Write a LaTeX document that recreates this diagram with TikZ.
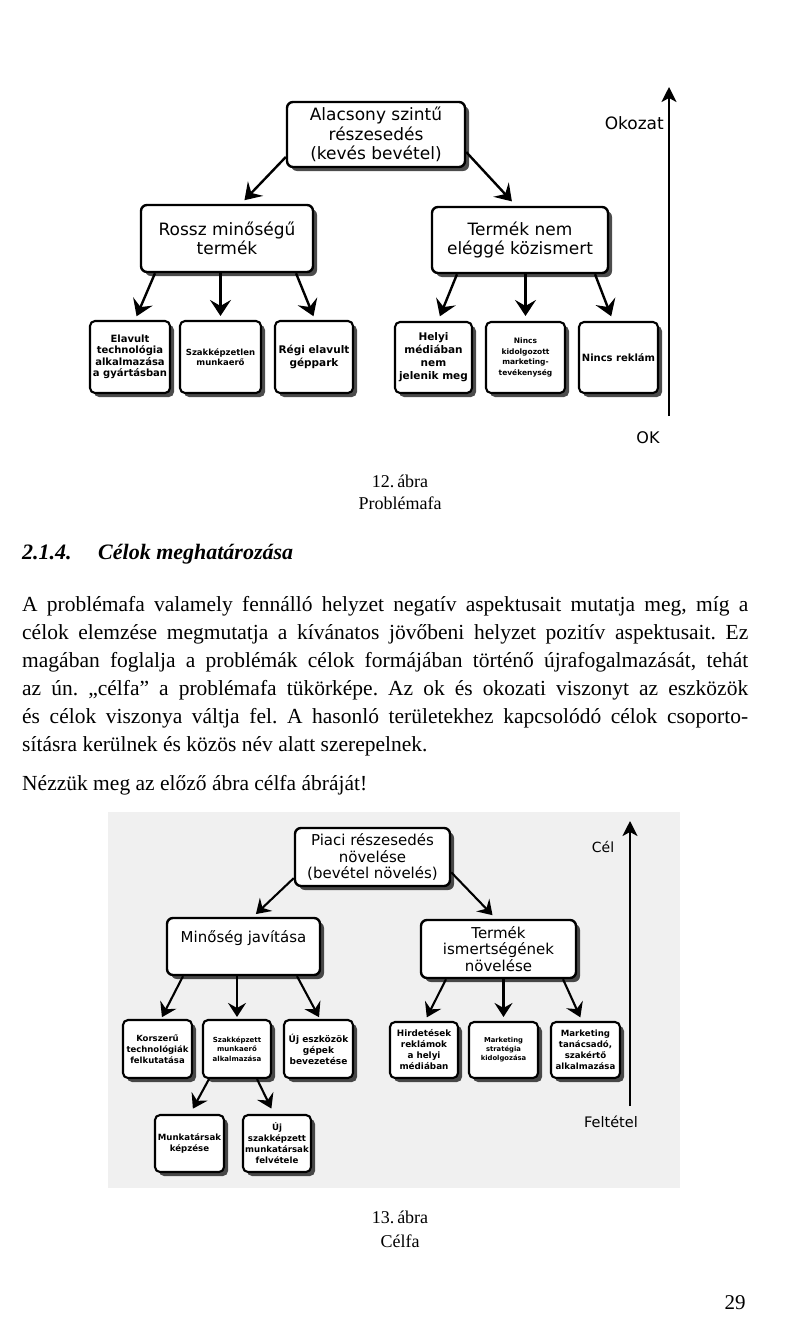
\documentclass[tikz,border=0pt]{standalone}
\usepackage{fontspec}
\setmainfont{Liberation Serif}
\newfontfamily\diafont{DejaVu Sans}
\usetikzlibrary{arrows.meta,shadows}
\tikzset{
  arr/.style={-{Stealth[length=16pt,width=21pt,inset=6pt]}, line width=2.4pt},
  arrb/.style={-{Stealth[length=14pt,width=18pt,inset=5pt]}, line width=2.1pt},
  axisarrow/.style={-{Stealth[length=15pt,width=15pt,inset=4pt]}, line width=2.5pt},
  tbox/.style={draw, line width=2.4pt, rounded corners=6pt, fill=white, align=center, inner sep=0pt,
    drop shadow={shadow xshift=4pt, shadow yshift=-4pt, fill=black, opacity=0.7}},
  bigA/.style={tbox, font=\diafont\fontsize{17}{19.5}\selectfont},
  bigB/.style={tbox, font=\diafont\fontsize{15}{16.5}\selectfont},
  smbox/.style={tbox, line width=2.1pt, rounded corners=5pt},
  bodytxt/.style={anchor=west, inner sep=0pt, font=\fontsize{21.5}{26}\selectfont\frenchspacing},
  headtxt/.style={anchor=base west, inner sep=0pt, font=\bfseries\itshape\fontsize{22}{26}\selectfont},
  captxt/.style={inner sep=0pt, font=\fontsize{18}{21}\selectfont},
  labtxt/.style={inner sep=0pt, font=\diafont\fontsize{17}{20}\selectfont},
}
\begin{document}
\begin{tikzpicture}[x=1pt,y=-1pt]
\useasboundingbox (0,0) rectangle (799,1330);
\fill[white] (0,0) rectangle (799,1330);

% ---------------- Diagram 1 ----------------
\node[bigA, minimum width=178pt, minimum height=65pt] (t1) at (376,134.5) {Alacsony szintű\\részesedés\\(kevés bevétel)};
\node[bigA, minimum width=172pt, minimum height=67pt] (l1) at (227,238.5) {Rossz minőségű\\termék};
\node[bigA, minimum width=176pt, minimum height=66pt] (r1) at (520,240) {Termék nem\\eléggé közismert};

\node[smbox, minimum width=80pt, minimum height=72pt, font=\diafont\bfseries\fontsize{10}{11.5}\selectfont] (a1) at (130,357) {Elavult\\technológia\\alkalmazása\\a gyártásban};
\node[smbox, minimum width=81pt, minimum height=72pt, font=\diafont\bfseries\fontsize{8.5}{10}\selectfont] (a2) at (220.5,357) {Szakképzetlen\\munkaerő};
\node[smbox, minimum width=78pt, minimum height=72pt, font=\diafont\bfseries\fontsize{10.5}{12.5}\selectfont] (a3) at (314,357) {Régi elavult\\géppark};

\node[smbox, minimum width=77pt, minimum height=71pt, font=\diafont\bfseries\fontsize{10.5}{13}\selectfont] (b1) at (433.5,357.5) {Helyi\\médiában\\nem\\jelenik meg};
\node[smbox, minimum width=79pt, minimum height=71pt, font=\diafont\bfseries\fontsize{7.5}{10.5}\selectfont] (b2) at (525.5,357.5) {Nincs\\kidolgozott\\marketing-\\tevékenység};
\node[smbox, minimum width=79pt, minimum height=71pt, font=\diafont\bfseries\fontsize{10}{12}\selectfont] (b3) at (618.5,357.5) {Nincs reklám};

\draw[arr, shorten >=5pt] (t1.194) -- ([xshift=14pt]l1.north);
\draw[arr, shorten >=6pt] (t1.349) -- ([xshift=-4pt]r1.north);

\draw[arr, shorten >=4pt] ([xshift=-72pt]l1.south) -- ([xshift=5pt]a1.north);
\draw[arr, shorten >=4pt] (a2.north |- l1.south) -- (a2.north);
\draw[arr, shorten >=4pt] ([xshift=69pt]l1.south) -- ([xshift=1pt]a3.north);

\draw[arr, shorten >=5pt] ([xshift=-63pt]r1.south) -- ([xshift=4.5pt]b1.north);
\draw[arr, shorten >=5pt] (b2.north |- r1.south) -- (b2.north);
\draw[arr, shorten >=5pt] ([xshift=75pt]r1.south) -- ([xshift=-5.5pt]b3.north);

\coordinate (ax1b) at (669,416);
\coordinate (ax1t) at (669,87);
\draw[axisarrow] (ax1b) -- (ax1t);
\node[labtxt, anchor=east] (okozat) at (664,123) {Okozat};
\node[labtxt, font=\diafont\fontsize{16}{19}\selectfont] (ok) at (648,438) {OK};

\node[captxt] (c12a) at (400,481) {12.\,ábra};
\node[captxt] (c12b) at (400,503) {Problémafa};

% ---------------- Text ----------------
\node[headtxt] (h1) at (22,559) {2.1.4.};
\node[headtxt] (h2) at (98,559) {Célok meghatározása};

\node[bodytxt] (p1) at (22,606) {\makebox[726pt][s]{A problémafa valamely fennálló helyzet negatív aspektusait mutatja meg, míg a}};
\node[bodytxt] (p2) at (22,634) {\makebox[726pt][s]{célok elemzése megmutatja a kívánatos jövőbeni helyzet pozitív aspektusait. Ez}};
\node[bodytxt] (p3) at (22,662) {\makebox[726pt][s]{magában foglalja a problémák célok formájában történő újrafogalmazását, tehát}};
\node[bodytxt] (p4) at (22,690) {\makebox[726pt][s]{az ún. „célfa” a problémafa tükörképe. Az ok és okozati viszonyt az eszközök}};
\node[bodytxt] (p5) at (22,718) {\makebox[726pt][s]{és célok viszonya váltja fel. A hasonló területekhez kapcsolódó célok csoporto-}};
\node[bodytxt] (p6) at (22,746) {sításra kerülnek és közös név alatt szerepelnek.};
\node[bodytxt] (p7) at (22,785) {Nézzük meg az előző ábra célfa ábráját!};

% ---------------- Diagram 2 ----------------
\fill[black!6] (108,812) rectangle (680,1188);

\node[bigB, minimum width=155pt, minimum height=58pt] (t2) at (372.5,857) {Piaci részesedés\\növelése\\(bevétel növelés)};
\node[bigB, minimum width=153pt, minimum height=57pt, text height=11pt, text depth=19pt] (l2) at (243.5,946.5) {Minőség javítása};
\node[bigB, minimum width=155pt, minimum height=58pt] (r2) at (498.5,949) {Termék\\ismertségének\\növelése};

\node[smbox, minimum width=69pt, minimum height=58pt, font=\diafont\bfseries\fontsize{8.5}{11}\selectfont] (c1) at (157.5,1049) {Korszerű\\technológiák\\felkutatása};
\node[smbox, minimum width=68pt, minimum height=58pt, font=\diafont\bfseries\fontsize{7}{9.5}\selectfont] (c2) at (237,1049) {Szakképzett\\munkaerő\\alkalmazása};
\node[smbox, minimum width=69pt, minimum height=58pt, font=\diafont\bfseries\fontsize{9}{11}\selectfont] (c3) at (318.5,1049) {Új eszközök\\gépek\\bevezetése};

\node[smbox, minimum width=68pt, minimum height=56pt, font=\diafont\bfseries\fontsize{8.8}{11}\selectfont] (d1) at (424,1050) {Hirdetések\\reklámok\\a helyi\\médiában};
\node[smbox, minimum width=69pt, minimum height=56pt, font=\diafont\bfseries\fontsize{6.8}{9}\selectfont] (d2) at (503.5,1050) {Marketing\\stratégia\\kidolgozása};
\node[smbox, minimum width=69pt, minimum height=56pt, font=\diafont\bfseries\fontsize{8.6}{11}\selectfont] (d3) at (585.5,1050) {Marketing\\tanácsadó,\\szakértő\\alkalmazása};

\node[smbox, minimum width=69pt, minimum height=57pt, font=\diafont\bfseries\fontsize{8.6}{11}\selectfont] (e1) at (189.5,1143.5) {Munkatársak\\képzése};
\node[smbox, minimum width=68pt, minimum height=57pt, font=\diafont\bfseries\fontsize{8.6}{11}\selectfont] (e2) at (277,1143.5) {Új\\szakképzett\\munkatársak\\felvétele};

\draw[arrb, shorten >=4pt] (t2.195) -- ([xshift=9.5pt]l2.north);
\draw[arrb, shorten >=5pt] (t2.349) -- ([xshift=-2.5pt]r2.north);

\draw[arrb, shorten >=2pt] ([xshift=-60.5pt]l2.south) -- ([xshift=3.5pt]c1.north);
\draw[arrb, shorten >=2pt] (c2.north |- l2.south) -- (c2.north);
\draw[arrb, shorten >=2pt] ([xshift=53.5pt]l2.south) -- ([xshift=1.5pt]c3.north);

\draw[arrb, shorten >=4pt] ([xshift=-52.5pt]r2.south) -- ([xshift=1pt]d1.north);
\draw[arrb, shorten >=4pt] (d2.north |- r2.south) -- (d2.north);
\draw[arrb, shorten >=4pt] ([xshift=64.5pt]r2.south) -- ([xshift=-3.5pt]d3.north);

\draw[arrb, shorten >=6pt] ([xshift=-28pt]c2.south) -- ([xshift=0.5pt]e1.north);
\draw[arrb, shorten >=6pt] ([xshift=20pt]c2.south) -- ([xshift=-3pt]e2.north);

\coordinate (ax2b) at (630,1106);
\coordinate (ax2t) at (630,821);
\draw[axisarrow, line width=2.3pt] (ax2b) -- (ax2t);
\node[labtxt, font=\diafont\fontsize{14}{17}\selectfont] (cel) at (603,847) {Cél};
\node[labtxt, font=\diafont\fontsize{14.5}{17}\selectfont] (feltetel) at (611,1122) {Feltétel};

\node[captxt] (c13a) at (400,1217) {13.\,ábra};
\node[captxt] (c13b) at (400,1241) {Célfa};

\node[inner sep=0pt, font=\fontsize{21}{24}\selectfont] (pg) at (735,1303) {29};
\end{tikzpicture}
\end{document}
